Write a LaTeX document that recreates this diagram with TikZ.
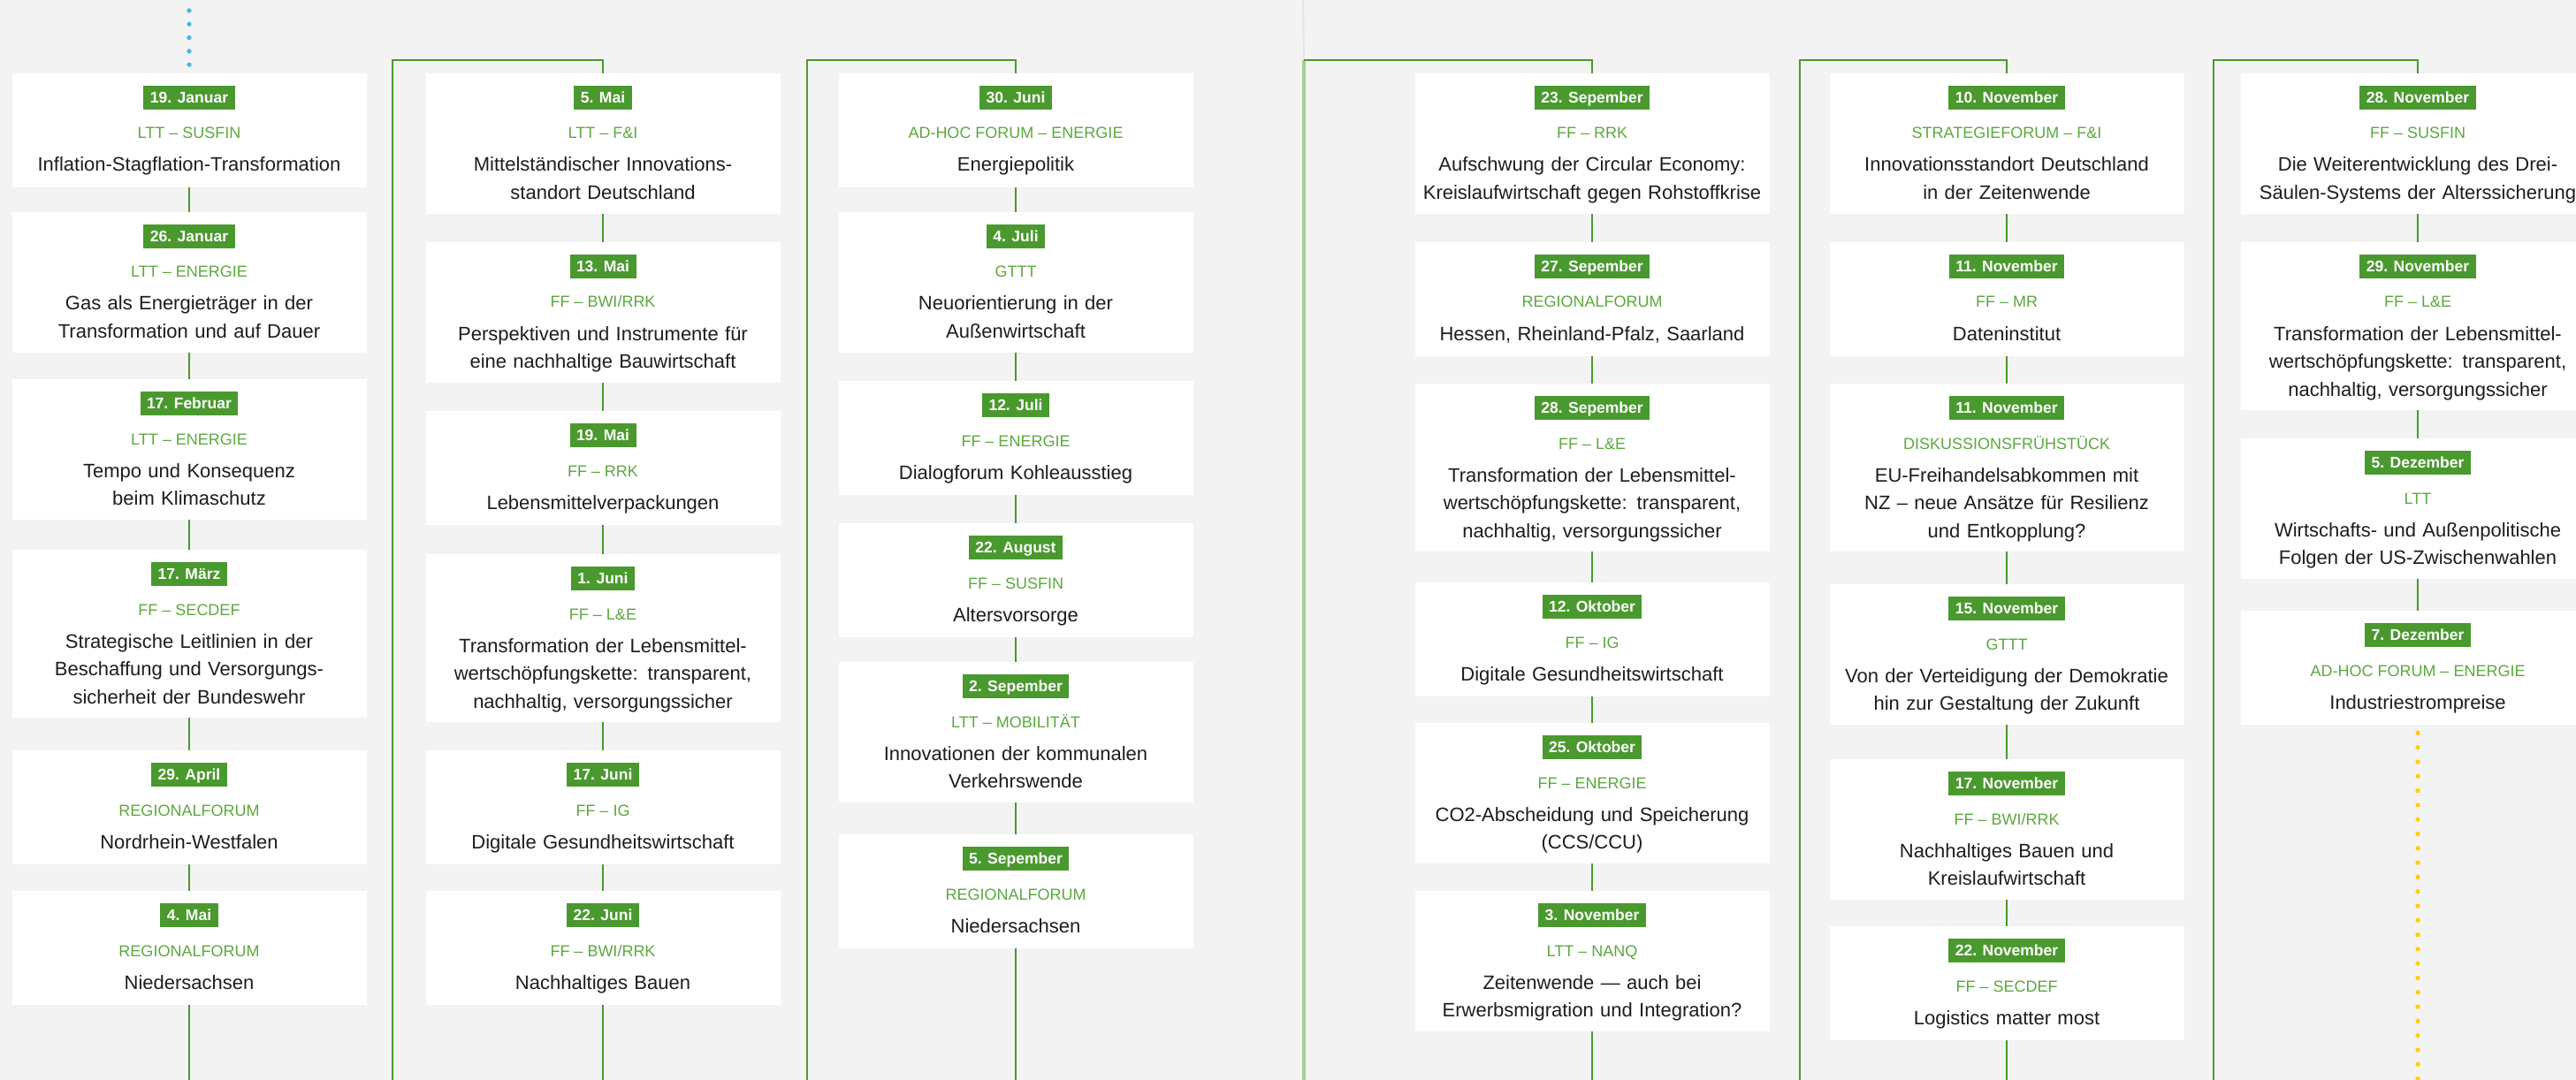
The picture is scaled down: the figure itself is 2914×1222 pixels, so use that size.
\documentclass[tikz,border=0pt]{standalone}
\usepackage{fontspec}
\setmainfont{Liberation Sans}
\usetikzlibrary{positioning}

\definecolor{pagebg}{RGB}{243,243,243}
\definecolor{tlgreen}{RGB}{74,153,46}
\definecolor{catgreen}{RGB}{92,168,62}
\definecolor{sepgreen}{RGB}{169,207,150}
\definecolor{sepgray}{RGB}{228,228,228}
\definecolor{dotblue}{RGB}{80,178,230}
\definecolor{dotgold}{RGB}{255,207,0}
\definecolor{inktext}{RGB}{29,29,27}

\tikzset{
  card/.style={rectangle, fill=white, minimum width=401pt, anchor=north, inner sep=0pt},
  datetag/.style={fill=tlgreen, text=white, minimum height=27pt, inner xsep=7.5pt, inner ysep=0pt,
    text height=12.5pt, text depth=0pt, font=\fontsize{17.5}{20}\selectfont\bfseries},
  cattag/.style={anchor=base, text=catgreen, inner sep=0pt, font=\fontsize{18}{20}\selectfont},
  titletext/.style={anchor=base, text=inktext, inner sep=0pt, text width=430pt, align=center,
    font=\fontsize{22}{31.5}\selectfont},
  link/.style={draw=tlgreen, line width=2.6pt},
  seplink/.style={draw=sepgreen, line width=4pt},
  sepline/.style={draw=sepgray, line width=2pt},
  bluedots/.style={draw=dotblue, line width=5.3pt, line cap=round, dash pattern=on 0pt off 15.3pt},
  golddots/.style={draw=dotgold, line width=5.3pt, line cap=round, dash pattern=on 0pt off 16.3pt}
}

% name, x, top, height, date, category, title
\newcommand{\eventcard}[7]{%
  \node[card, minimum height=#4] (#1) at (#2,#3) {};
  \node[datetag, below=14pt of #1.north] (#1-date) {#5};
  \node[cattag] (#1-cat) at ([yshift=-74pt]#1.north) {#6};
  \node[titletext] (#1-title) at ([yshift=-111pt]#1.north) {#7};
}

\begin{document}
\begin{tikzpicture}[x=1pt,y=-1pt]
\useasboundingbox (0,0) rectangle (2914,1222);
\fill[pagebg] (0,0) rectangle (2914,1222); %background

% column 1
\eventcard{jan19}{214}{83}{129}{19. Januar}{LTT – SUSFIN}{Inflation-Stagflation-Transformation}
\eventcard{jan26}{214}{240}{159}{26. Januar}{LTT – ENERGIE}{Gas als Energieträger in der\\Transformation und auf Dauer}
\eventcard{feb17}{214}{429}{159}{17. Februar}{LTT – ENERGIE}{Tempo und Konsequenz\\beim Klimaschutz}
\eventcard{mar17}{214}{622}{190}{17. März}{FF – SECDEF}{Strategische Leitlinien in der\\Beschaffung und Versorgungs-\\sicherheit der Bundeswehr}
\eventcard{apr29}{214}{849}{129}{29. April}{REGIONALFORUM}{Nordrhein-Westfalen}
\eventcard{mai4}{214}{1008}{129}{4. Mai}{REGIONALFORUM}{Niedersachsen}

% column 2
\eventcard{mai5}{682}{83}{159}{5. Mai}{LTT – F\&I}{Mittelständischer Innovations-\\standort Deutschland}
\eventcard{mai13}{682}{274}{159}{13. Mai}{FF – BWI/RRK}{Perspektiven und Instrumente für\\eine nachhaltige Bauwirtschaft}
\eventcard{mai19}{682}{465}{129}{19. Mai}{FF – RRK}{Lebensmittelverpackungen}
\eventcard{jun1}{682}{627}{190}{1. Juni}{FF – L\&E}{Transformation der Lebensmittel-\\wertschöpfungskette: transparent,\\nachhaltig, versorgungssicher}
\eventcard{jun17}{682}{849}{129}{17. Juni}{FF – IG}{Digitale Gesundheitswirtschaft}
\eventcard{jun22}{682}{1008}{129}{22. Juni}{FF – BWI/RRK}{Nachhaltiges Bauen}

% column 3
\eventcard{jun30}{1149}{83}{129}{30. Juni}{AD-HOC FORUM – ENERGIE}{Energiepolitik}
\eventcard{jul4}{1149}{240}{159}{4. Juli}{GTTT}{Neuorientierung in der\\Außenwirtschaft}
\eventcard{jul12}{1149}{431}{129}{12. Juli}{FF – ENERGIE}{Dialogforum Kohleausstieg}
\eventcard{aug22}{1149}{592}{129}{22. August}{FF – SUSFIN}{Altersvorsorge}
\eventcard{sep2}{1149}{749}{159}{2. Sepember}{LTT – MOBILITÄT}{Innovationen der kommunalen\\Verkehrswende}
\eventcard{sep5}{1149}{944}{129}{5. Sepember}{REGIONALFORUM}{Niedersachsen}

% column 4
\eventcard{sep23}{1801}{83}{159}{23. Sepember}{FF – RRK}{Aufschwung der Circular Economy:\\Kreislaufwirtschaft gegen Rohstoffkrise}
\eventcard{sep27}{1801}{274}{129}{27. Sepember}{REGIONALFORUM}{Hessen, Rheinland-Pfalz, Saarland}
\eventcard{sep28}{1801}{434}{190}{28. Sepember}{FF – L\&E}{Transformation der Lebensmittel-\\wertschöpfungskette: transparent,\\nachhaltig, versorgungssicher}
\eventcard{okt12}{1801}{659}{129}{12. Oktober}{FF – IG}{Digitale Gesundheitswirtschaft}
\eventcard{okt25}{1801}{818}{159}{25. Oktober}{FF – ENERGIE}{CO2-Abscheidung und Speicherung\\(CCS/CCU)}
\eventcard{nov3}{1801}{1008}{159}{3. November}{LTT – NANQ}{Zeitenwende — auch bei\\Erwerbsmigration und Integration?}

% column 5
\eventcard{nov10}{2270}{83}{159}{10. November}{STRATEGIEFORUM – F\&I}{Innovationsstandort Deutschland\\in der Zeitenwende}
\eventcard{nov11a}{2270}{274}{129}{11. November}{FF – MR}{Dateninstitut}
\eventcard{nov11b}{2270}{434}{190}{11. November}{DISKUSSIONSFRÜHSTÜCK}{EU-Freihandelsabkommen mit\\NZ – neue Ansätze für Resilienz\\und Entkopplung?}
\eventcard{nov15}{2270}{661}{159}{15. November}{GTTT}{Von der Verteidigung der Demokratie\\hin zur Gestaltung der Zukunft}
\eventcard{nov17}{2270}{859}{159}{17. November}{FF – BWI/RRK}{Nachhaltiges Bauen und\\Kreislaufwirtschaft}
\eventcard{nov22}{2270}{1048}{129}{22. November}{FF – SECDEF}{Logistics matter most}

% column 6
\eventcard{nov28}{2735}{83}{159}{28. November}{FF – SUSFIN}{Die Weiterentwicklung des Drei-\\Säulen-Systems der Alterssicherung}
\eventcard{nov29}{2735}{274}{190}{29. November}{FF – L\&E}{Transformation der Lebensmittel-\\wertschöpfungskette: transparent,\\nachhaltig, versorgungssicher}
\eventcard{dez5}{2735}{496}{159}{5. Dezember}{LTT}{Wirtschafts- und Außenpolitische\\Folgen der US-Zwischenwahlen}
\eventcard{dez7}{2735}{691}{129}{7. Dezember}{AD-HOC FORUM – ENERGIE}{Industriestrompreise}

% free ends of the timeline
\coordinate (c1-start) at (214,12);
\coordinate (c1-end) at (214,1222);
\coordinate (c2-foot) at (444,1222);
\coordinate (c2-turn) at (682,68);
\coordinate (c2-end) at (682,1222);
\coordinate (c3-foot) at (913,1222);
\coordinate (c3-turn) at (1149,68);
\coordinate (c3-end) at (1149,1222);
\coordinate (gutter) at (1474,0);
\coordinate (c4-foot) at (1475,1222);
\coordinate (c4-corner) at (1475,68);
\coordinate (c4-turn) at (1801,68);
\coordinate (c4-end) at (1801,1222);
\coordinate (c5-foot) at (2036,1222);
\coordinate (c5-turn) at (2270,68);
\coordinate (c5-end) at (2270,1222);
\coordinate (c6-foot) at (2504,1222);
\coordinate (c6-turn) at (2735,68);
\coordinate (c6-end) at (2735,1222);

% column 1
\draw[bluedots] (c1-start) -- (jan19);
\draw[link] (jan19) -- (jan26) (jan26) -- (feb17) (feb17) -- (mar17) (mar17) -- (apr29)
  (apr29) -- (mai4) (mai4) -- (c1-end);

% column 2
\draw[link] (c2-foot) |- (c2-turn) -- (mai5);
\draw[link] (mai5) -- (mai13) (mai13) -- (mai19) (mai19) -- (jun1) (jun1) -- (jun17)
  (jun17) -- (jun22) (jun22) -- (c2-end);

% column 3
\draw[link] (c3-foot) |- (c3-turn) -- (jun30);
\draw[link] (jun30) -- (jul4) (jul4) -- (jul12) (jul12) -- (aug22) (aug22) -- (sep2)
  (sep2) -- (sep5) (sep5) -- (c3-end);

% column 4 (after the fold)
\draw[sepline] (gutter) -- (c4-corner);
\draw[seplink] (c4-foot) -- (c4-corner);
\draw[link] (c4-corner) -- (c4-turn) -- (sep23);
\draw[link] (sep23) -- (sep27) (sep27) -- (sep28) (sep28) -- (okt12) (okt12) -- (okt25)
  (okt25) -- (nov3) (nov3) -- (c4-end);

% column 5
\draw[link] (c5-foot) |- (c5-turn) -- (nov10);
\draw[link] (nov10) -- (nov11a) (nov11a) -- (nov11b) (nov11b) -- (nov15) (nov15) -- (nov17)
  (nov17) -- (nov22) (nov22) -- (c5-end);

% column 6
\draw[link] (c6-foot) |- (c6-turn) -- (nov28);
\draw[link] (nov28) -- (nov29) (nov29) -- (dez5) (dez5) -- (dez7);
\draw[golddots, shorten <=9pt] (dez7) -- (c6-end);
\end{tikzpicture}
\end{document}
